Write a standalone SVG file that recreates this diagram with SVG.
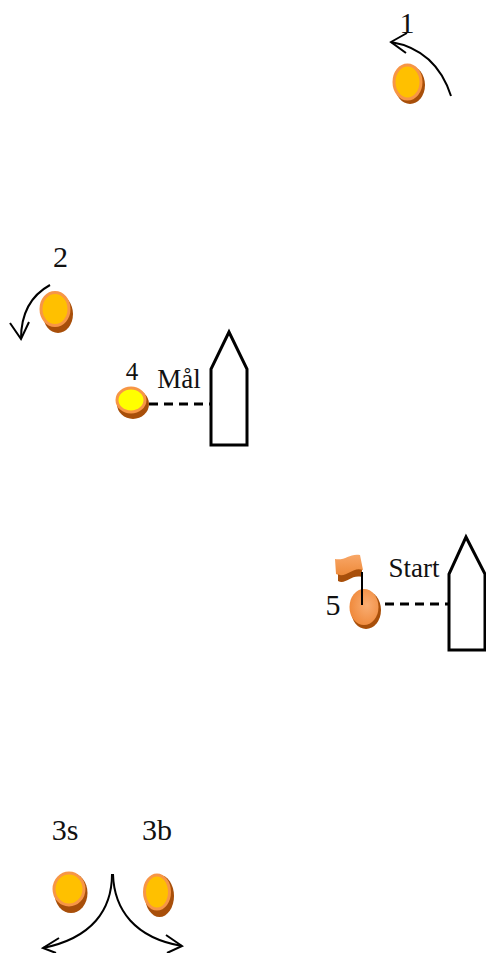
<svg xmlns="http://www.w3.org/2000/svg" width="486" height="953" viewBox="0 0 486 953">
<defs>
<radialGradient id="og" cx="0.6" cy="0.45" r="0.6"><stop offset="0" stop-color="#f9ad72"/><stop offset="1" stop-color="#f08a3c"/></radialGradient>
<linearGradient id="fg" x1="0" y1="0" x2="0" y2="1"><stop offset="0" stop-color="#f8a768"/><stop offset="1" stop-color="#ee8a3a"/></linearGradient>
</defs>
<style>
text{font-family:"Liberation Serif","Times New Roman",serif;fill:#111}
.n{font-size:30px}.s{font-size:25px}.l{font-size:27px}
.shadow{fill:#a84f0a}
.top{fill:#ffc000;stroke:#f79646;stroke-width:3}
.line{fill:none;stroke:#000;stroke-width:2}
.boat{fill:#fff;stroke:#000;stroke-width:3}
.dash{fill:none;stroke:#000;stroke-width:3;stroke-dasharray:9 6}
</style>
<g id="connectors">
<path class="line" d="M451 96C441 65 420 47 391 42"/>
<path class="line" d="M407 33L391 42L406 53"/>
<path class="line" d="M50 285C30 296 21 315 21 339"/>
<path class="line" d="M10 323L21 339L29 322"/>
<path class="dash" d="M149 404H210"/>
<path class="dash" d="M385 604H450"/>
<path class="line" d="M112 874C112 910 92 938 43 948"/>
<path class="line" d="M59 938L43 948L56 953"/>
<path class="line" d="M113 874C114 910 135 938 182 946"/>
<path class="line" d="M166 935L182 946L167 953"/>
</g>
<g id="node-1"><ellipse class="shadow" cx="410" cy="85" rx="15" ry="19"/><ellipse class="top" cx="407.500" cy="82" rx="13.500" ry="17"/><text class="n" x="407" y="33" text-anchor="middle">1</text></g>
<g id="node-2"><ellipse class="shadow" cx="58" cy="314" rx="15" ry="19"/><ellipse class="top" cx="55" cy="309" rx="14" ry="16.500"/><text class="n" x="60.500" y="267" text-anchor="middle">2</text></g>
<g id="node-4"><ellipse class="shadow" cx="133" cy="404" rx="16" ry="15"/><ellipse class="top" cx="131" cy="400" rx="14" ry="12" style="fill:#ff0"/><text class="s" x="132" y="380" text-anchor="middle">4</text><text class="l" x="179" y="388" text-anchor="middle">Mål</text></g>
<g id="boat-mal"><path class="boat" d="M211 445V369L229 332L247 369V445Z"/></g>
<g id="node-5"><ellipse class="shadow" cx="366" cy="610" rx="15" ry="19"/><ellipse cx="364" cy="607" rx="14.500" ry="18" fill="url(#og)"/>
<path d="M338 570V581C346 585 351 574 362 577V566Z" fill="#a84f0a"/>
<path d="M335 559C345 561 350 553 360 555L363 570C352 566 347 579 336 574Z" fill="url(#fg)"/>
<path d="M362 572V605" fill="none" stroke="#000" stroke-width="2"/>
<text class="n" x="333" y="615" text-anchor="middle">5</text><text class="l" x="414" y="577" text-anchor="middle">Start</text></g>
<g id="boat-start"><path class="boat" d="M449 650V574L466 537L485 574V650Z"/></g>
<g id="node-3s"><ellipse class="shadow" cx="71" cy="893" rx="16.500" ry="20"/><ellipse class="top" cx="69" cy="889" rx="15" ry="16"/><text class="n" x="65" y="840" text-anchor="middle">3s</text></g>
<g id="node-3b"><ellipse class="shadow" cx="159.500" cy="896" rx="14.500" ry="21"/><ellipse class="top" cx="157" cy="892" rx="12.500" ry="17"/><text class="n" x="157" y="840" text-anchor="middle">3b</text></g>
</svg>
